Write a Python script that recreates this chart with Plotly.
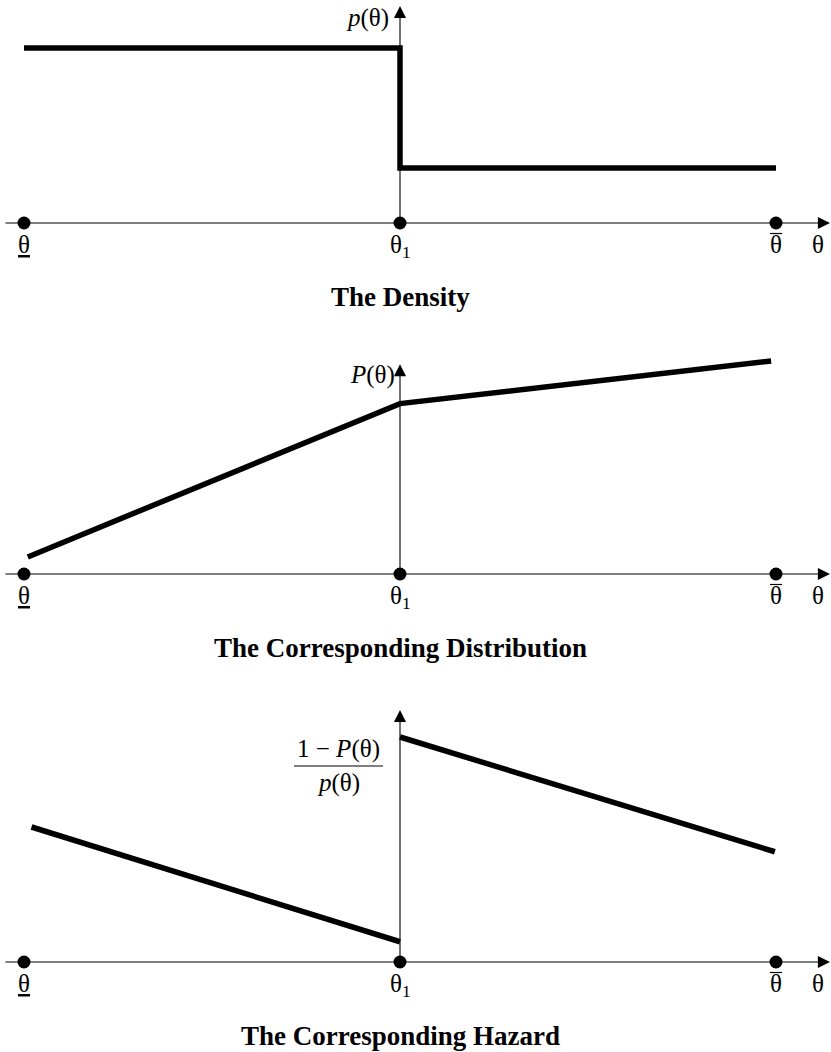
import plotly.graph_objects as go

# ---- data (abstract units) ----
theta_pts = [0.0, 1.0, 2.0]           # theta_low, theta_1, theta_high
theta_labels = ["<u>θ</u>", "θ<sub>1</sub>", "θ"]

density_x = [0.0, 1.0, 1.0, 2.0]
density_y = [1.0, 1.0, 0.314, 0.314]

dist_x = [0.01, 1.0, 1.987]
dist_y = [0.08, 0.80, 1.0]

hazard_low_x = [0.02, 1.0]
hazard_low_y = [0.60, 0.09]
hazard_high_x = [1.0, 1.997]
hazard_high_y = [1.0, 0.49]

titles = ["The Density", "The Corresponding Distribution", "The Corresponding Hazard"]

W, H = 831, 1052
FONT = "Liberation Serif"

fig = go.Figure()

# axis definitions per panel: (yaxis name, domain px top/bottom, y0 px, px per unit, arrow top)
panels = [
    ("y", 0, 330, 223, 175.0, 1.24),
    ("y2", 330, 680, 574, 213.0, 0.985),
    ("y3", 680, 1052, 962, 225.0, 1.12),
]

x_lo = -24 / 376
x_hi = (831 - 24) / 376

layout_axes = {}
for name, top, bot, y0, ppu, arrow_top in panels:
    key = "yaxis" if name == "y" else "yaxis" + name[1:]
    layout_axes[key] = dict(
        domain=[1 - bot / H, 1 - top / H],
        range=[-(bot - y0) / ppu, (y0 - top) / ppu],
        visible=False, fixedrange=True, anchor="x",
    )

fig.update_layout(**layout_axes)
fig.update_layout(
    xaxis=dict(range=[x_lo, x_hi], visible=False, fixedrange=True),
    width=W, height=H, margin=dict(l=0, r=0, t=0, b=0),
    plot_bgcolor="white", paper_bgcolor="white", showlegend=False,
)

LW = 5.5
fig.add_trace(go.Scatter(x=density_x, y=density_y, mode="lines",
                         line=dict(color="black", width=LW), yaxis="y"))
fig.add_trace(go.Scatter(x=dist_x, y=dist_y, mode="lines",
                         line=dict(color="black", width=LW), yaxis="y2"))
fig.add_trace(go.Scatter(x=hazard_low_x, y=hazard_low_y, mode="lines",
                         line=dict(color="black", width=LW), yaxis="y3"))
fig.add_trace(go.Scatter(x=hazard_high_x, y=hazard_high_y, mode="lines",
                         line=dict(color="black", width=LW), yaxis="y3"))

LBL = dict(family=FONT, size=25, color="black")
annotations = []
shapes = []
for i, (name, top, bot, y0, ppu, arrow_top) in enumerate(panels):
    # horizontal axis with arrow
    annotations.append(dict(x=x_hi - 1 / 376, y=0, ax=x_lo + 4 / 376, ay=0, xref="x", yref=name,
                            axref="x", ayref=name, showarrow=True, arrowhead=2,
                            arrowsize=2.2, arrowwidth=1.1, arrowcolor="black", text=""))
    # vertical axis with arrow
    annotations.append(dict(x=1.0, y=arrow_top, ax=1.0, ay=0, xref="x", yref=name,
                            axref="x", ayref=name, showarrow=True, arrowhead=2,
                            arrowsize=2.2, arrowwidth=1.1, arrowcolor="black", text=""))
    # dots
    fig.add_trace(go.Scatter(x=theta_pts, y=[0, 0, 0], mode="markers",
                             marker=dict(color="black", size=13), yaxis=name,
                             cliponaxis=False))
    # theta labels
    for xv, lab in zip(theta_pts, theta_labels):
        annotations.append(dict(x=xv, y=0, xref="x", yref=name, text=lab,
                                showarrow=False, yanchor="top", yshift=-6,
                                font=LBL))
    annotations.append(dict(x=(818 - 24) / 376, y=0, xref="x", yref=name, text="θ",
                            showarrow=False, yanchor="top", yshift=-6,
                            font=LBL))
    # overline on theta-bar
    yb = -(10.5) / ppu
    shapes.append(dict(type="line", xref="x", yref=name,
                       x0=2.0 - 6 / 376, x1=2.0 + 6 / 376, y0=yb, y1=yb,
                       line=dict(color="black", width=1.2)))
    # title
    annotations.append(dict(x=1.0, y=0, xref="x", yref=name, text="<b>" + titles[i] + "</b>",
                            showarrow=False, yanchor="middle", yshift=-74,
                            font=dict(family=FONT, size=27, color="black")))

# y-axis labels
annotations.append(dict(x=1.0, y=1.24, xref="x", yref="y", text="<i>p</i>(θ)",
                        showarrow=False, xanchor="right", yanchor="middle",
                        xshift=-9, yshift=-12, font=LBL))
annotations.append(dict(x=1.0, y=0.985, xref="x", yref="y2", text="<i>P</i>(θ)",
                        showarrow=False, xanchor="right", yanchor="middle",
                        xshift=-3, yshift=-11, font=LBL))
annotations.append(dict(x=(338 - 24) / 376, y=(962 - 766) / 225, xref="x", yref="y3",
                        text="1 − <i>P</i>(θ)", showarrow=False, yanchor="bottom", yshift=1,
                        font=LBL))
annotations.append(dict(x=(338 - 24) / 376, y=(962 - 766) / 225, xref="x", yref="y3",
                        text="<i>p</i>(θ)", showarrow=False, yanchor="top", yshift=-1,
                        font=LBL))
shapes.append(dict(type="line", xref="x", yref="y3",
                   x0=(294 - 24) / 376, x1=(383 - 24) / 376,
                   y0=(962 - 766) / 225, y1=(962 - 766) / 225,
                   line=dict(color="black", width=1)))

fig.update_layout(annotations=annotations, shapes=shapes)
fig.write_html("out.html", config={"displayModeBar": False},
               post_script="document.body.style.margin='0px';")
